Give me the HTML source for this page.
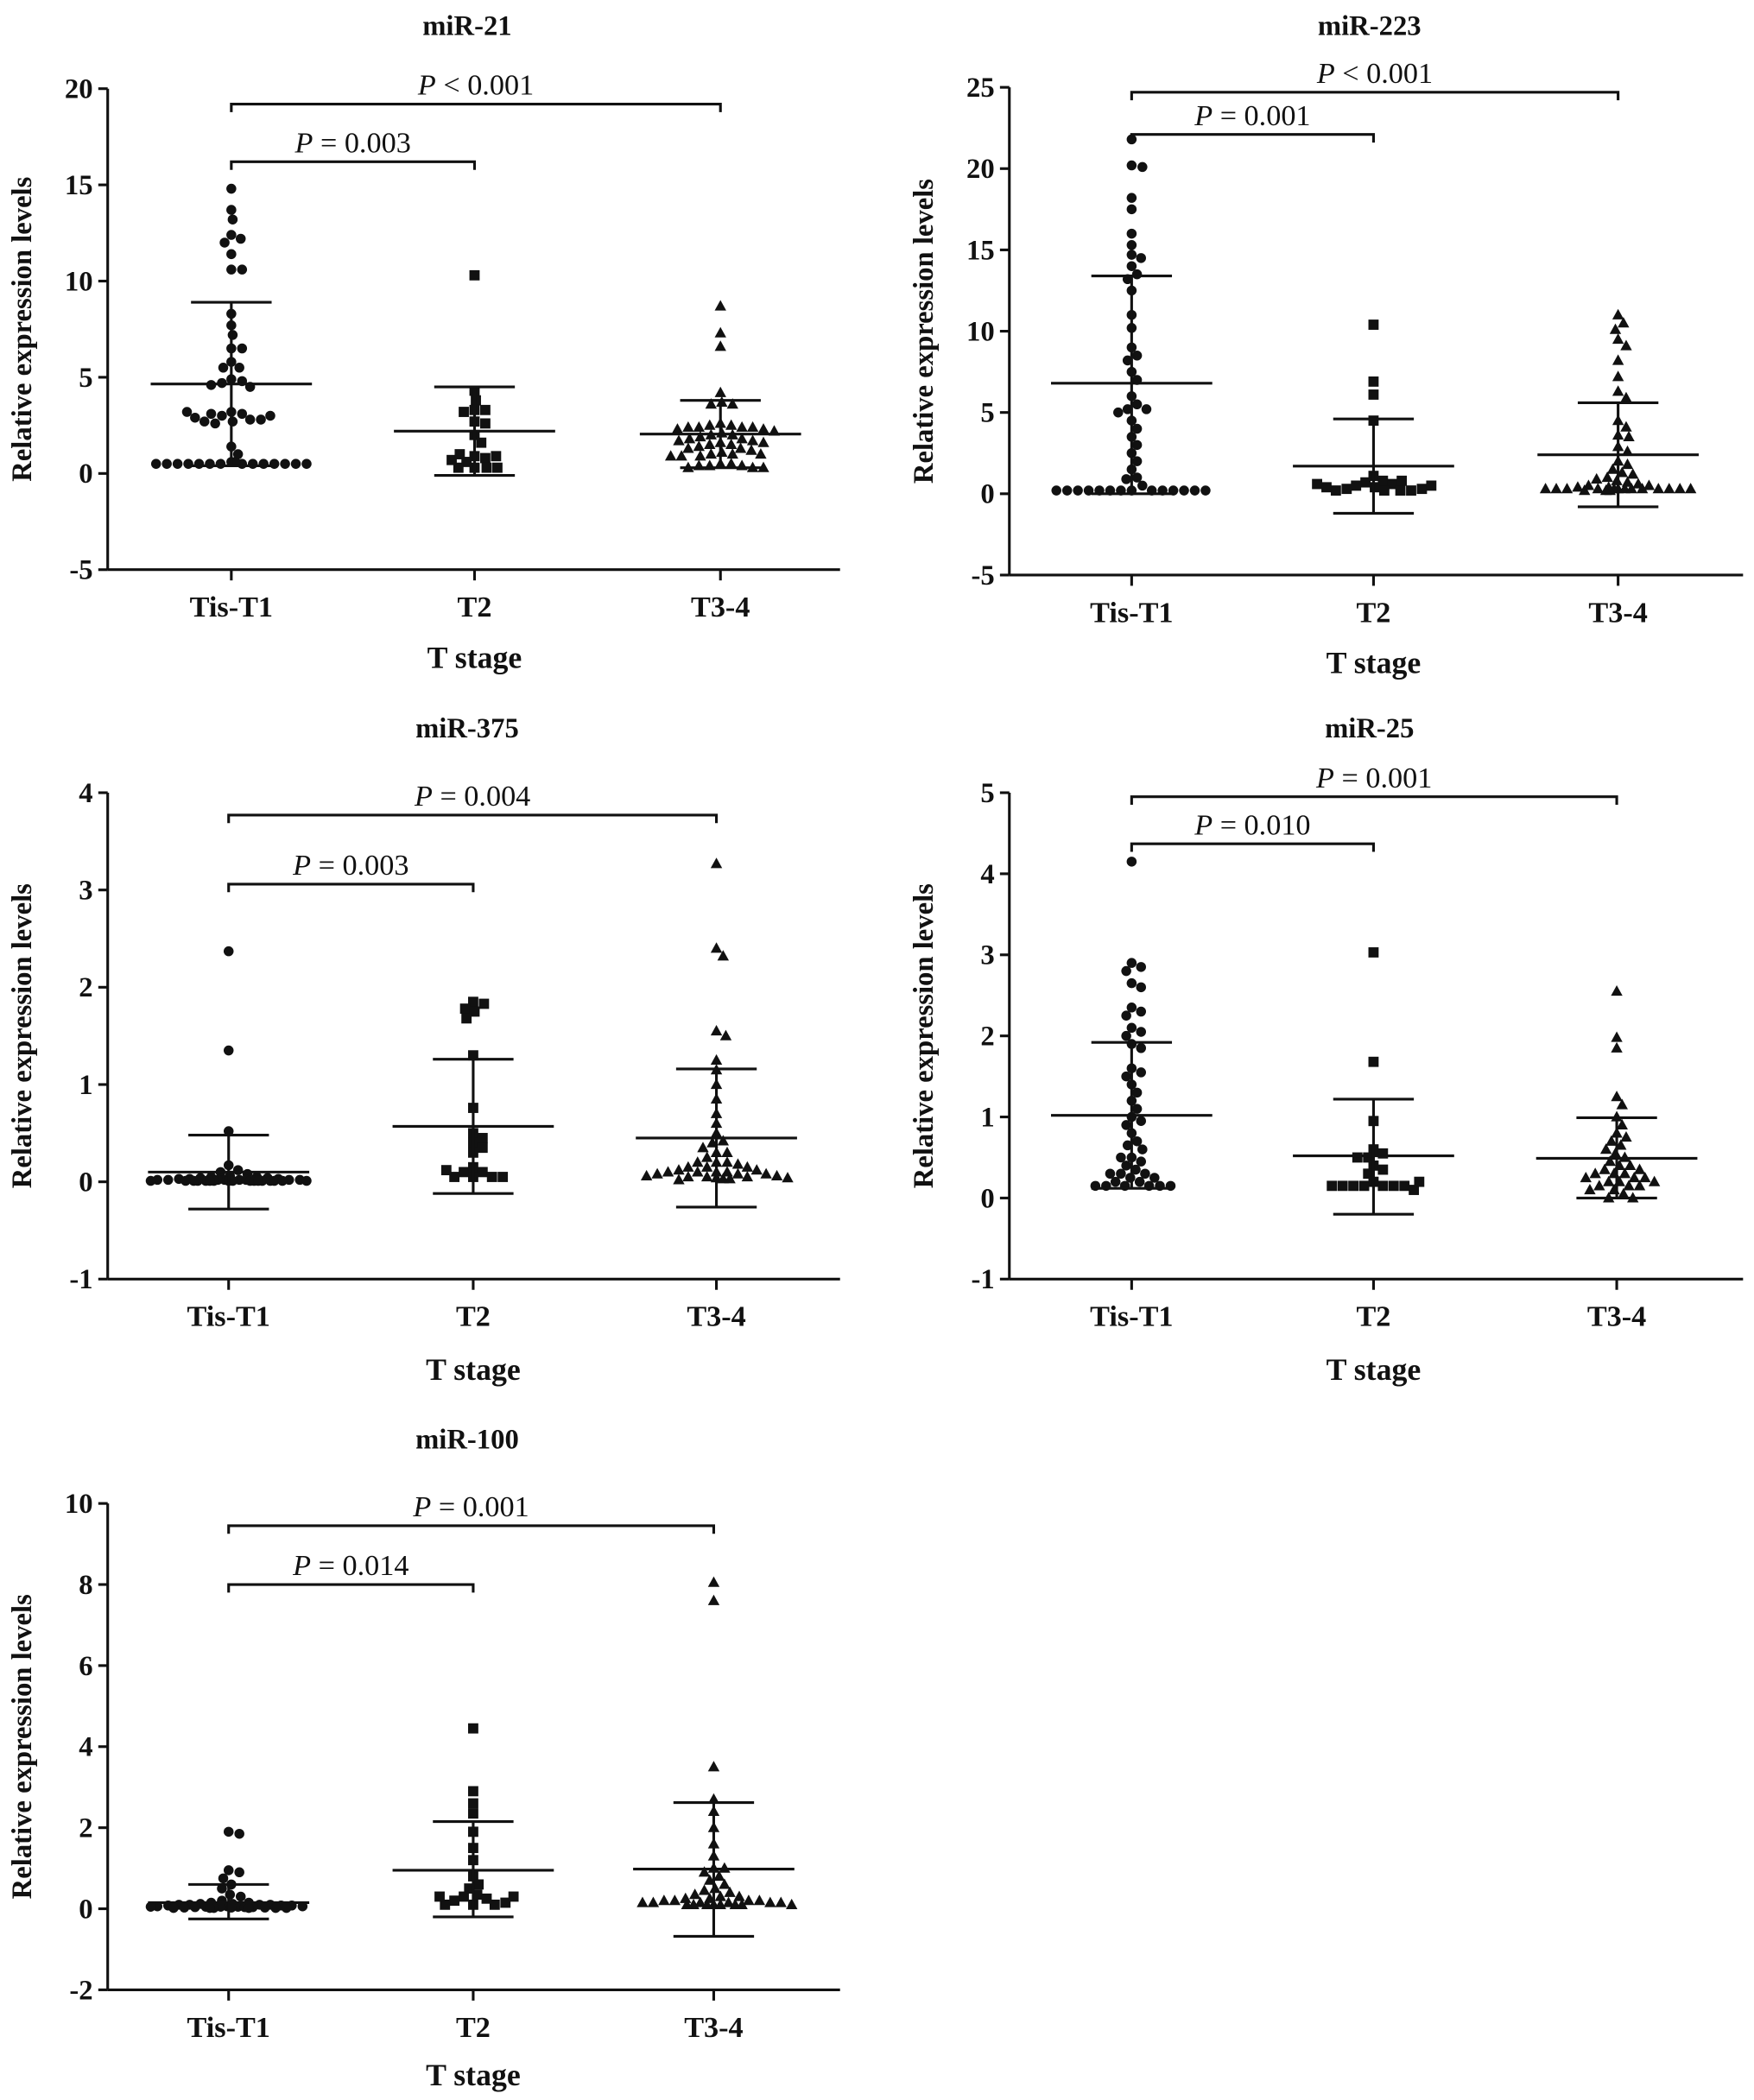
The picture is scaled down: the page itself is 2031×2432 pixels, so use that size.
<!DOCTYPE html>
<html><head><meta charset="utf-8"><style>
html,body{margin:0;padding:0;background:#fff}
svg{display:block}
text{font-family:"Liberation Serif",serif;fill:#111}
</style></head><body>
<svg id="fig" width="2031" height="2432" viewBox="0 0 1305 1563" xmlns="http://www.w3.org/2000/svg"></svg>
<script>
const categories = ["Tis-T1","T2","T3-4"];
const titles = ["miR-21","miR-223","miR-375","miR-25","miR-100"];
const yTicks21 = [-5,0,5,10,15,20];
const yTicks223 = [-5,0,5,10,15,20,25];
const yTicks375 = [-1,0,1,2,3,4];
const yTicks25 = [-1,0,1,2,3,4,5];
const yTicks100 = [-2,0,2,4,6,8,10];
const pLabels21 = ["P < 0.001","P = 0.003"];
const pLabels223 = ["P < 0.001","P = 0.001"];
const pLabels375 = ["P  = 0.004","P = 0.003"];
const pLabels25 = ["P = 0.001","P = 0.010"];
const pLabels100 = ["P  = 0.001","P = 0.014"];
const brackets21 = [19.2,16.2];
const brackets223 = [24.7,22.1];
const brackets375 = [3.77,3.06];
const brackets25 = [4.95,4.37];
const brackets100 = [9.45,8.0];
const mean21=[4.65,2.2,2.05], upper21=[8.9,4.5,3.8], lower21=[0.4,-0.1,0.3];
const mean223=[6.8,1.7,2.4], upper223=[13.4,4.6,5.6], lower223=[0.0,-1.2,-0.8];
const mean375=[0.1,0.57,0.45], upper375=[0.48,1.26,1.16], lower375=[-0.28,-0.12,-0.26];
const mean25=[1.02,0.52,0.49], upper25=[1.92,1.22,0.99], lower25=[0.12,-0.2,0.0];
const mean100=[0.15,0.95,0.98], upper100=[0.6,2.15,2.62], lower100=[-0.25,-0.2,-0.68];
const v21a=[14.8,13.7,13.2,12.4,12.2,12.0,11.4,10.6,10.6,8.3,7.7,7.2,6.5,6.5,5.8,5.5,5.5,4.9,4.8,4.7,4.5,4.6,3.2,3.1,3.0,2.8,2.7,2.6,2.7,2.8,2.9,3.0,3.1,3.2,1.4,1.0,0.6,0.5,0.5,0.5,0.5,0.5,0.5,0.5,0.5,0.5,0.5,0.5,0.5,0.5,0.5,0.6];
const v21b=[10.3,4.3,3.8,3.3,3.3,3.2,2.7,2.6,2.0,1.6,0.9,0.8,0.6,0.3,0.3,0.3,0.3,0.7,0.9,1.0];
const v21c=[8.7,7.3,6.6,4.2,3.7,3.6,3.6,2.6,2.5,2.5,2.4,2.4,2.4,2.4,2.3,2.3,2.2,2.1,2.0,2.0,1.9,1.8,1.8,1.7,1.7,1.6,1.6,1.5,1.5,1.4,1.3,1.3,1.2,1.1,1.0,1.0,1.0,0.9,0.9,0.9,0.5,0.5,0.4,0.4,0.4,0.3,0.3,0.3];
const v223a=[21.8,20.2,20.1,18.2,17.5,16.0,15.3,14.7,14.5,14.0,13.5,13.2,12.5,11.0,10.2,9.0,8.5,8.2,7.5,7.0,6.0,5.5,5.2,5.2,5.0,4.5,4.0,3.5,3.0,2.5,2.0,1.5,1.0,0.9,0.5,0.2,0.2,0.2,0.2,0.2,0.2,0.2,0.2,0.2,0.2,0.2,0.2,0.2,0.2];
const v223b=[10.4,6.9,6.1,4.5,1.1,0.8,0.7,0.6,0.5,0.4,0.3,0.2,0.2,0.2,0.2,0.3,0.4,0.5,0.6,0.8];
const v223c=[11.0,10.5,10.1,9.5,9.1,8.2,7.2,6.3,5.9,4.5,4.1,3.6,3.5,2.9,2.6,2.0,1.8,1.5,1.3,1.2,1.0,0.9,0.8,0.7,0.6,0.5,0.5,0.4,0.4,0.3,0.3,0.3,0.3,0.3,0.3,0.3,0.3,0.3,0.3,0.3,0.3,0.3,0.2,0.2,0.2];
const v375a=[2.37,1.35,0.52,0.17,0.12,0.1,0.08,0.06,0.05,0.05,0.04,0.04,0.03,0.03,0.03,0.02,0.02,0.02,0.02,0.02,0.02,0.02,0.02,0.01,0.01,0.01,0.01,0.01,0.01,0.01,0.01,0.01,0.01,0.01,0.01,0.01,0.01,0.01,0.01,0.01];
const v375b=[1.85,1.83,1.78,1.75,1.68,1.3,0.76,0.5,0.45,0.4,0.35,0.3,0.15,0.1,0.1,0.05,0.05,0.05,0.05,0.12];
const v375c=[3.27,2.4,2.32,1.55,1.5,1.25,1.15,1.0,0.85,0.7,0.6,0.5,0.42,0.4,0.35,0.3,0.3,0.25,0.2,0.2,0.2,0.18,0.15,0.15,0.15,0.12,0.12,0.1,0.1,0.1,0.1,0.08,0.08,0.08,0.06,0.06,0.05,0.05,0.05,0.04,0.04,0.03,0.03,0.02];
const v25a=[4.15,2.9,2.85,2.8,2.65,2.6,2.35,2.3,2.25,2.1,2.05,2.0,1.9,1.85,1.6,1.55,1.5,1.4,1.3,1.2,1.1,1.0,0.95,0.9,0.8,0.7,0.65,0.6,0.5,0.5,0.45,0.4,0.35,0.3,0.3,0.3,0.25,0.25,0.2,0.2,0.15,0.15,0.15,0.15,0.15,0.15];
const v25b=[3.03,1.68,0.95,0.6,0.55,0.5,0.4,0.35,0.3,0.2,0.15,0.15,0.15,0.15,0.15,0.15,0.1,0.15,0.2,0.5];
const v25c=[2.55,1.98,1.85,1.25,1.15,1.0,0.9,0.8,0.75,0.7,0.65,0.6,0.55,0.5,0.45,0.4,0.4,0.35,0.35,0.3,0.3,0.3,0.25,0.25,0.25,0.2,0.2,0.2,0.15,0.15,0.15,0.1,0.1,0.05,0.0,0.0];
const v100a=[1.9,1.85,0.95,0.9,0.75,0.6,0.5,0.35,0.3,0.2,0.15,0.15,0.12,0.12,0.1,0.1,0.1,0.1,0.08,0.08,0.08,0.06,0.06,0.06,0.05,0.05,0.05,0.05,0.04,0.04,0.04,0.03,0.03,0.03,0.02,0.02,0.02,0.02,0.02,0.02];
const v100b=[4.45,2.9,2.6,2.35,1.9,1.5,1.2,0.8,0.6,0.5,0.35,0.3,0.25,0.2,0.1,0.1,0.1,0.15,0.3,0.3];
const v100c=[8.05,7.6,3.5,2.7,2.4,2.0,1.6,1.3,1.0,1.0,0.9,0.8,0.7,0.6,0.5,0.45,0.4,0.35,0.3,0.3,0.25,0.25,0.2,0.2,0.2,0.2,0.15,0.15,0.15,0.15,0.15,0.15,0.1,0.1,0.1,0.1,0.1,0.1,0.1,0.1];

const NS="http://www.w3.org/2000/svg";
const svg=document.getElementById('fig');
function mk(tag,attrs,parent){const e=document.createElementNS(NS,tag);for(const k in attrs)e.setAttribute(k,attrs[k]);(parent||svg).appendChild(e);return e;}

const panels=[
 {t:0,x0:80,x1:625,yTop:66,yBot:424,ticks:yTicks21,cx:[172,353,536],p:pLabels21,br:brackets21,m:mean21,u:upper21,l:lower21,v:[v21a,v21b,v21c],ty:20,xl:490},
 {t:1,x0:751,x1:1297,yTop:65,yBot:428,ticks:yTicks223,cx:[842,1022,1204],p:pLabels223,br:brackets223,m:mean223,u:upper223,l:lower223,v:[v223a,v223b,v223c],ty:20,xl:494},
 {t:2,x0:80,x1:625,yTop:590,yBot:952,ticks:yTicks375,cx:[170,352,533],p:pLabels375,br:brackets375,m:mean375,u:upper375,l:lower375,v:[v375a,v375b,v375c],ty:543,xl:1020},
 {t:3,x0:751,x1:1297,yTop:590,yBot:952,ticks:yTicks25,cx:[842,1022,1203],p:pLabels25,br:brackets25,m:mean25,u:upper25,l:lower25,v:[v25a,v25b,v25c],ty:543,xl:1020},
 {t:4,x0:80,x1:625,yTop:1119,yBot:1481,ticks:yTicks100,cx:[170,352,531],p:pLabels100,br:brackets100,m:mean100,u:upper100,l:lower100,v:[v100a,v100b,v100c],ty:1072,xl:1545}
];

panels.forEach((P,pi)=>{
 const g=mk('g',{});
 
 
 const lo=P.ticks[0],hi=P.ticks[P.ticks.length-1];
 const y=v=>P.yBot-(v-lo)/(hi-lo)*(P.yBot-P.yTop);
 const st={stroke:'#111','stroke-width':2,fill:'none'};
 const title=mk('text',{x:(P.x0+P.x1)/2-5,y:P.ty+6,'text-anchor':'middle','font-size':21,'font-weight':'bold'},g);title.textContent=titles[P.t];
 
 const ya=mk('line',Object.assign({x1:P.x0,y1:P.yTop,x2:P.x0,y2:P.yBot},st),g);
 
 const xa=mk('line',Object.assign({x1:P.x0,y1:P.yBot,x2:P.x1,y2:P.yBot},st),g);
 
 P.ticks.forEach(t=>{
  mk('line',Object.assign({x1:P.x0-7,y1:y(t),x2:P.x0,y2:y(t)},st),g);
  const tl=mk('text',{x:P.x0-11,y:y(t)+7,'text-anchor':'end','font-size':21,'font-weight':'bold'},g);tl.textContent=t;
  
 });
 P.cx.forEach((cx,i)=>{
  mk('line',Object.assign({x1:cx,y1:P.yBot,x2:cx,y2:P.yBot+8},st),g);
  const cl=mk('text',{x:cx,y:P.yBot+35,'text-anchor':'middle','font-size':22,'font-weight':'bold'},g);cl.textContent=categories[i];
  
 });
 const xl=mk('text',{x:P.cx[1],y:P.xl+7,'text-anchor':'middle','font-size':23,'font-weight':'bold'},g);xl.textContent='T stage';
 
 const ylx=P.x0-57, yly=(P.yTop+P.yBot)/2;
 const yl=mk('text',{x:ylx,y:yly,'text-anchor':'middle','font-size':21,'font-weight':'bold',transform:`rotate(-90 ${ylx} ${yly})`},g);yl.textContent='Relative expression levels';
 
 [[0,2],[0,1]].forEach((pr,bi)=>{
  const by=y(P.br[bi]);const xa1=P.cx[pr[0]],xa2=P.cx[pr[1]];
  const b=mk('path',Object.assign({d:`M${xa1},${by+6}V${by}H${xa2}V${by+6}`},st),g);
  
  const lab=P.p[bi];const tx=mk('text',{x:(xa1+xa2)/2,y:by-7,'text-anchor':'middle','font-size':22},g);
  const i1=mk('tspan',{'font-style':'italic'},tx);i1.textContent='P';
  const i2=mk('tspan',{},tx);i2.textContent=lab.slice(1);
  
 });
 P.v.forEach((vals,ci)=>{
  const cx=P.cx[ci];const cap=58;const placed=[];
  const sg=mk('g',{fill:'#111'},g);
  
  vals.forEach(v=>{
   const py=y(v);let off=null;
   for(let d=7.2;d>0.5&&off===null;d*=0.6){
    for(let k=0;k<2*cap+2;k++){const o=(k%2?1:-1)*Math.ceil(k/2);
     if(Math.abs(o)>cap)break;let ok=true;
     for(const q of placed){const dx=(cx+o)-q[0],dy=py-q[1];if(dx*dx+dy*dy<d*d){ok=false;break;}}
     if(ok){off=o;break;}}
   }
   if(off===null)off=0;
   const px=cx+off;placed.push([px,py]);
   let m;
   if(ci===0)m=mk('circle',{cx:px,cy:py,r:3.7},sg);
   else if(ci===1)m=mk('rect',{x:px-3.8,y:py-3.8,width:7.6,height:7.6},sg);
   else m=mk('polygon',{points:`${px},${py-4.5} ${px+4.3},${py+3.3} ${px-4.3},${py+3.3}`},sg);
   
  });
  const ml=mk('line',Object.assign({x1:cx-60,y1:y(P.m[ci]),x2:cx+60,y2:y(P.m[ci])},st),g);
  
  const sv=mk('line',Object.assign({x1:cx,y1:y(P.u[ci]),x2:cx,y2:y(P.l[ci])},st),g);
  
  [P.u[ci],P.l[ci]].forEach(b=>{const c=mk('line',Object.assign({x1:cx-30,y1:y(b),x2:cx+30,y2:y(b)},st),g);
   });
 });
});
</script>
</body></html>
